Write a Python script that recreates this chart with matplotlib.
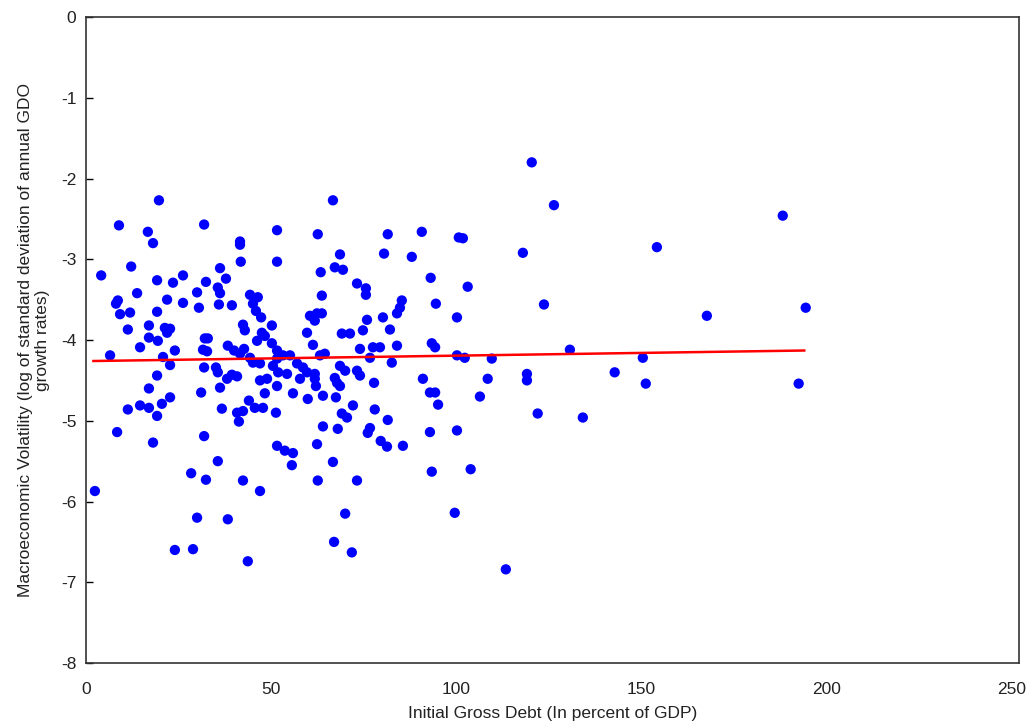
import matplotlib
matplotlib.use("Agg")
import matplotlib.pyplot as plt

debt = [19.7, 8.9, 16.7, 18.1, 31.9, 51.6, 41.6, 41.6, 41.8, 51.6, 12.2, 4.1, 19.2, 23.5, 26.2, 36.2,
        37.8, 32.4, 35.6, 36.2, 30.0, 13.8, 8.1, 8.6, 21.9, 26.2, 30.5, 35.9, 39.4, 44.3, 46.4, 45.1,
        45.9, 47.3, 9.2, 11.9, 19.2, 17.0, 11.3, 21.3, 22.7, 21.9, 17.0, 19.4, 14.6, 32.1, 32.9, 42.4,
        42.9, 50.2, 47.5, 48.3, 46.2, 38.3, 24.0, 31.6, 32.7, 50.2, 6.5, 20.8, 40.0, 41.6, 42.7, 44.3,
        45.1, 47.0, 51.6, 22.7, 31.9, 35.1, 35.6, 38.1, 39.4, 40.8, 19.2, 47.0, 48.9, 50.5, 51.9, 17.0,
        31.1, 36.2, 48.3, 51.6, 22.7, 20.5, 14.6, 17.0, 11.3, 19.2, 36.7, 40.8, 42.4, 41.3, 44.0, 45.6,
        47.8, 51.3, 8.4, 18.1, 31.9, 51.6, 35.6, 28.4, 32.4, 42.4, 47.0, 2.4, 30.0, 38.3, 24.0, 28.9,
        43.7, 66.7, 62.6, 81.5, 90.7, 100.7, 68.6, 80.5, 88.0, 63.4, 67.2, 69.4, 93.1, 73.2, 75.6, 75.6,
        63.7, 85.3, 84.8, 84.0, 94.5, 100.2, 60.5, 62.4, 63.7, 61.8, 75.9, 80.2, 82.1, 74.8, 69.1, 71.3,
        59.7, 61.3, 74.0, 77.5, 79.4, 84.0, 93.4, 94.3, 51.6, 53.2, 55.1, 76.7, 100.2, 63.2, 64.5, 54.3,
        57.0, 58.6, 59.7, 57.8, 61.8, 61.8, 62.1, 68.6, 70.0, 67.2, 67.8, 68.6, 73.2, 74.0, 82.6, 77.8,
        91.0, 92.9, 94.3, 95.1, 55.9, 59.9, 64.0, 67.5, 72.1, 78.0, 69.1, 70.5, 81.5, 64.0, 68.0, 76.7,
        76.1, 79.6, 81.3, 85.6, 92.9, 100.2, 53.7, 55.9, 55.6, 62.4, 66.7, 62.6, 73.2, 93.4, 70.0, 99.6,
        67.0, 71.8, 120.4, 126.4, 101.8, 118.0, 154.2, 103.1, 123.7, 130.7, 102.3, 109.6, 150.4, 108.5,
        119.1, 119.1, 142.8, 151.2, 106.4, 122.0, 134.2, 103.9, 113.4, 188.2, 167.7, 194.4, 192.5]

volatility = [-2.27, -2.58, -2.66, -2.80, -2.57, -2.64, -2.78, -2.82, -3.03, -3.03, -3.09, -3.20, -3.26,
              -3.29, -3.20, -3.11, -3.24, -3.28, -3.35, -3.42, -3.41, -3.42, -3.55, -3.51, -3.50, -3.54,
              -3.60, -3.56, -3.57, -3.44, -3.47, -3.55, -3.64, -3.72, -3.68, -3.66, -3.65, -3.82, -3.87,
              -3.85, -3.86, -3.91, -3.97, -4.01, -4.09, -3.98, -3.98, -3.81, -3.88, -3.82, -3.91, -3.95,
              -4.01, -4.07, -4.13, -4.12, -4.14, -4.04, -4.19, -4.21, -4.13, -4.17, -4.11, -4.22, -4.28,
              -4.29, -4.23, -4.31, -4.34, -4.34, -4.40, -4.48, -4.43, -4.45, -4.44, -4.50, -4.48, -4.32,
              -4.40, -4.60, -4.65, -4.59, -4.66, -4.57, -4.71, -4.79, -4.81, -4.84, -4.86, -4.94, -4.85,
              -4.90, -4.88, -5.01, -4.75, -4.84, -4.84, -4.90, -5.14, -5.27, -5.19, -5.31, -5.50, -5.65,
              -5.73, -5.74, -5.87, -5.87, -6.20, -6.22, -6.60, -6.59, -6.74, -2.27, -2.69, -2.69, -2.66,
              -2.73, -2.94, -2.93, -2.97, -3.16, -3.10, -3.13, -3.23, -3.30, -3.36, -3.44, -3.45, -3.51,
              -3.60, -3.67, -3.55, -3.72, -3.70, -3.67, -3.67, -3.76, -3.75, -3.72, -3.87, -3.88, -3.92,
              -3.92, -3.91, -4.06, -4.11, -4.09, -4.09, -4.07, -4.04, -4.09, -4.13, -4.19, -4.19, -4.22,
              -4.19, -4.19, -4.17, -4.42, -4.29, -4.34, -4.40, -4.48, -4.42, -4.48, -4.57, -4.32, -4.38,
              -4.47, -4.53, -4.57, -4.38, -4.44, -4.28, -4.53, -4.48, -4.65, -4.65, -4.80, -4.66, -4.73,
              -4.69, -4.71, -4.81, -4.86, -4.91, -4.96, -4.99, -5.07, -5.10, -5.09, -5.15, -5.25, -5.32,
              -5.31, -5.14, -5.12, -5.37, -5.40, -5.55, -5.29, -5.51, -5.74, -5.74, -5.63, -6.15, -6.14,
              -6.50, -6.63, -1.80, -2.33, -2.74, -2.92, -2.85, -3.34, -3.56, -4.12, -4.22, -4.23, -4.22,
              -4.48, -4.42, -4.50, -4.40, -4.54, -4.70, -4.91, -4.96, -5.60, -6.84, -2.46, -3.70, -3.60,
              -4.54]

trend_x = [2.0, 194.0]
trend_y = [-4.26, -4.13]

x_ticks = [0, 50, 100, 150, 200, 250]
y_ticks = [0, -1, -2, -3, -4, -5, -6, -7, -8]

plt.rcParams['font.family'] = ['Liberation Sans Narrow', 'Liberation Sans', 'DejaVu Sans']

fig = plt.figure(figsize=(10.35, 7.27), dpi=100)
ax = fig.add_axes([0.0831, 0.088, 0.9014, 0.8886])

ax.scatter(debt, volatility, s=55, color='#0000ff', edgecolors='none', zorder=3)
ax.plot(trend_x, trend_y, color='#ff0000', lw=1.8, zorder=4)

ax.set_xlim(0, 252)
ax.set_ylim(-8, 0)
ax.set_xticks(x_ticks)
ax.set_yticks(y_ticks)
ax.set_xticklabels([str(v) for v in x_ticks])
ax.set_yticklabels([str(v) for v in y_ticks])

ax.tick_params(axis='y', direction='in', length=5, width=1, pad=7, labelsize=12.5, labelcolor='#222222')
ax.tick_params(axis='x', direction='in', length=0, pad=14, labelsize=12.5, labelcolor='#222222')

for sp in ax.spines.values():
    sp.set_color('#333333')
    sp.set_linewidth(1.2)

ax.set_xlabel('Initial Gross Debt (In percent of GDP)', fontsize=12.5, color='#222222', labelpad=6)
ax.set_ylabel('Macroeconomic Volatility (log of standard deviation of annual GDO\ngrowth rates)',
              fontsize=12.5, color='#222222', labelpad=8, linespacing=1.15)

fig.savefig('out.png', dpi=100)
